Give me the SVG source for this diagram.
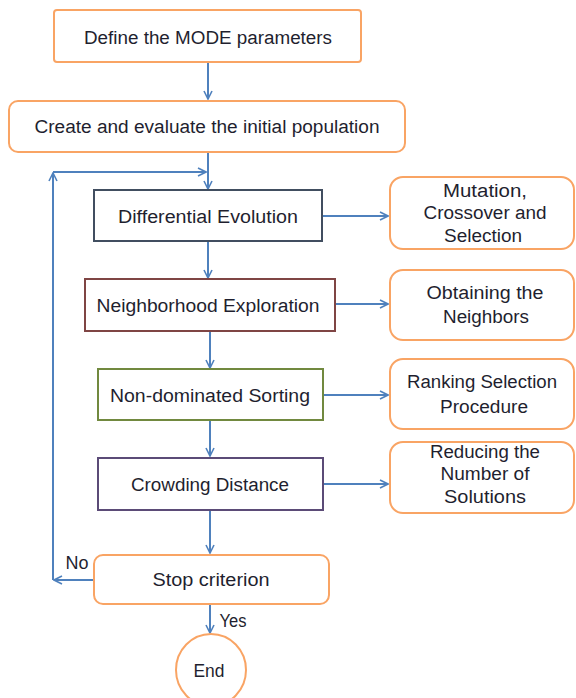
<svg xmlns="http://www.w3.org/2000/svg" width="576" height="698" viewBox="0 0 576 698">
<defs>
<marker id="ah" viewBox="0 0 10 10" refX="9" refY="5" markerWidth="5" markerHeight="5" orient="auto" markerUnits="strokeWidth">
<path d="M1,1 L9,5 L1,9" fill="none" stroke="#4F81BD" stroke-width="1.6"/>
</marker>
</defs>
<style>
.o{fill:#fff;stroke:#F9A464;stroke-width:2}
.k{fill:#fff;stroke-width:2}
.t{font-family:"Liberation Sans",Arial,sans-serif;font-size:18px;fill:#1F1F2F;text-anchor:middle}
.c line,.c path{stroke:#4F81BD;stroke-width:2;fill:none;marker-end:url(#ah)}
</style>
<rect width="576" height="698" fill="#fff"/>
<g class="c" id="connectors">
<line x1="208" y1="62" x2="208" y2="99"/>
<line x1="208" y1="152" x2="208" y2="189"/>
<line x1="208" y1="241" x2="208" y2="278"/>
<line x1="210" y1="331" x2="210" y2="368"/>
<line x1="210" y1="420" x2="210" y2="456"/>
<line x1="210" y1="510" x2="210" y2="553"/>
<line x1="210" y1="604" x2="210" y2="633"/>
<line x1="322" y1="216" x2="388" y2="216"/>
<line x1="335" y1="304" x2="388" y2="304"/>
<line x1="323" y1="395" x2="388" y2="395"/>
<line x1="323" y1="484" x2="388" y2="484"/>
<line x1="94" y1="580" x2="54" y2="580"/>
<line x1="53" y1="580" x2="53" y2="173"/>
<line x1="53" y1="172" x2="206" y2="172"/>
</g>
<g id="n1"><rect class="o" x="54" y="10" width="307" height="52" rx="3"/><text class="t" x="208" y="44" textLength="248" lengthAdjust="spacingAndGlyphs">Define the MODE parameters</text></g>
<g id="n2"><rect class="o" x="9" y="101" width="396" height="51" rx="9"/><text class="t" x="207" y="133" textLength="345" lengthAdjust="spacingAndGlyphs">Create and evaluate the initial population</text></g>
<g id="n3"><rect class="k" x="94" y="190" width="228" height="51" stroke="#414E60"/><text class="t" x="208" y="223" textLength="180" lengthAdjust="spacingAndGlyphs">Differential Evolution</text></g>
<g id="n4"><rect class="k" x="85" y="279" width="250" height="52" stroke="#7F4544"/><text class="t" x="208" y="312" textLength="223" lengthAdjust="spacingAndGlyphs">Neighborhood Exploration</text></g>
<g id="n5"><rect class="k" x="98" y="369" width="225" height="51" stroke="#71893F"/><text class="t" x="210" y="402" textLength="200" lengthAdjust="spacingAndGlyphs">Non-dominated Sorting</text></g>
<g id="n6"><rect class="k" x="98" y="458" width="225" height="52" stroke="#5B4B77"/><text class="t" x="210" y="491" textLength="158" lengthAdjust="spacingAndGlyphs">Crowding Distance</text></g>
<g id="n7"><rect class="o" x="94" y="555" width="235" height="49" rx="9"/><text class="t" x="211" y="586" textLength="117" lengthAdjust="spacingAndGlyphs">Stop criterion</text></g>
<g id="n8"><ellipse class="o" cx="211" cy="670" rx="35" ry="36"/><text class="t" x="209" y="677" textLength="31" lengthAdjust="spacingAndGlyphs">End</text></g>
<g id="r1"><rect class="o" x="390" y="177" width="184" height="72" rx="13"/>
<text class="t" x="485" y="197" textLength="84" lengthAdjust="spacingAndGlyphs">Mutation,</text>
<text class="t" x="485" y="219" textLength="123" lengthAdjust="spacingAndGlyphs">Crossover and</text>
<text class="t" x="483" y="242" textLength="78" lengthAdjust="spacingAndGlyphs">Selection</text></g>
<g id="r2"><rect class="o" x="390" y="270" width="184" height="70" rx="13"/>
<text class="t" x="485" y="299" textLength="117" lengthAdjust="spacingAndGlyphs">Obtaining the</text>
<text class="t" x="486" y="323" textLength="86" lengthAdjust="spacingAndGlyphs">Neighbors</text></g>
<g id="r3"><rect class="o" x="390" y="359" width="184" height="70" rx="13"/>
<text class="t" x="482" y="388" textLength="150" lengthAdjust="spacingAndGlyphs">Ranking Selection</text>
<text class="t" x="484" y="413" textLength="88" lengthAdjust="spacingAndGlyphs">Procedure</text></g>
<g id="r4"><rect class="o" x="390" y="442" width="184" height="71" rx="13"/>
<text class="t" x="485" y="458" textLength="110" lengthAdjust="spacingAndGlyphs">Reducing the</text>
<text class="t" x="485" y="480" textLength="89" lengthAdjust="spacingAndGlyphs">Number of</text>
<text class="t" x="485" y="503" textLength="82" lengthAdjust="spacingAndGlyphs">Solutions</text></g>
<g id="labels">
<text class="t" x="77" y="569" textLength="23" lengthAdjust="spacingAndGlyphs">No</text>
<text class="t" x="233" y="627" textLength="27" lengthAdjust="spacingAndGlyphs">Yes</text>
</g>
</svg>
